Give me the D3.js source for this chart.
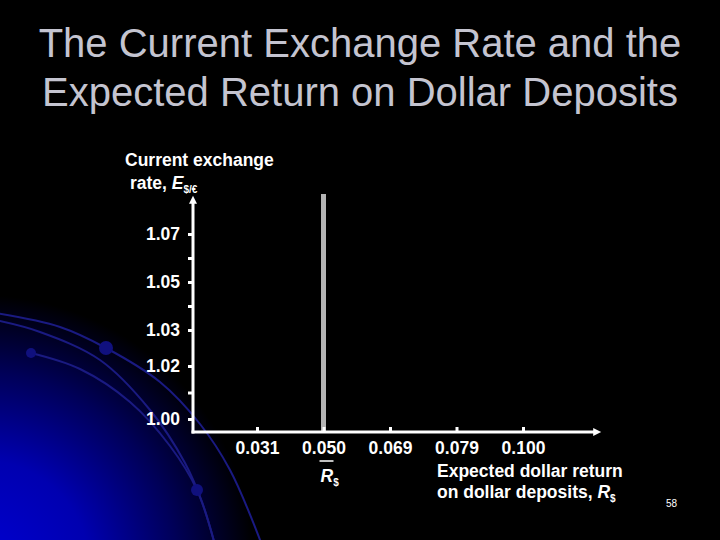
<!DOCTYPE html>
<html lang="en">

<head>
    <meta charset="utf-8">
    <title>The Current Exchange Rate and the Expected Return on Dollar Deposits</title>
    <script src="https://d3js.org/d3.v7.min.js"></script>
    <style>
        body {
            margin: 0;
            padding: 0;
            overflow: hidden;
            background: #000;
        }

        text {
            font-family: "Liberation Sans", Arial, sans-serif;
        }
    </style>
</head>

<body>

    <svg id="chart"></svg>

    <script>
        // exchange rate ticks (E$/€), only some of them carry a label
        const yTickValues = [1.00, 1.01, 1.02, 1.03, 1.04, 1.05, 1.06, 1.07];
        const yTickLabels = ["1.00", "", "1.02", "1.03", "", "1.05", "", "1.07"];
        // expected dollar return ticks
        const xTickLabels = ["0.031", "0.050", "0.069", "0.079", "0.100"];
        // the dollar interest rate R$ (vertical schedule)
        const dollarRate = "0.050";

        const titleLines = ["The Current Exchange Rate and the", "Expected Return on Dollar Deposits"];

        const width = 720;
        const height = 540;

        const svg = d3.select("#chart")
            .attr("width", width)
            .attr("height", height);

        const defs = svg.append("defs");

        // blue glow in the bottom left corner
        const glow = defs.append("radialGradient")
            .attr("id", "glow")
            .attr("gradientUnits", "userSpaceOnUse")
            .attr("cx", -20).attr("cy", 570).attr("r", 275);
        glow.append("stop").attr("offset", 0).attr("stop-color", "#0000d4");
        glow.append("stop").attr("offset", 0.4).attr("stop-color", "#0000b0");
        glow.append("stop").attr("offset", 0.72).attr("stop-color", "#000058");
        glow.append("stop").attr("offset", 1).attr("stop-color", "#000000");

        defs.append("marker")
            .attr("id", "arrow")
            .attr("markerUnits", "userSpaceOnUse")
            .attr("viewBox", "0 0 10 10")
            .attr("refX", 1).attr("refY", 5)
            .attr("markerWidth", 9).attr("markerHeight", 8)
            .attr("orient", "auto")
            .append("path")
            .attr("d", "M0,0 L10,5 L0,10 Z")
            .attr("fill", "#fff");

        svg.append("rect")
            .attr("width", width)
            .attr("height", height)
            .attr("fill", "#000");

        svg.append("rect")
            .attr("width", width)
            .attr("height", height)
            .attr("fill", "url(#glow)");

        // decorative arcs
        const swoosh = d3.line().curve(d3.curveCatmullRom);
        const arcs = [
            [[-5, 313], [60, 327], [106, 348], [160, 382], [200, 424], [230, 470], [262, 545]],
            [[-5, 320], [40, 332], [100, 360], [150, 410], [185, 463], [202, 502], [215, 545]],
            [[31, 353], [80, 369], [130, 402], [170, 446], [197, 490], [215, 545]]
        ];
        svg.append("g")
            .selectAll("path")
            .data(arcs)
            .join("path")
            .attr("d", swoosh)
            .attr("fill", "none")
            .attr("stroke", "#1a1a82")
            .attr("stroke-width", 2);

        svg.append("g")
            .selectAll("circle")
            .data([[106, 348, 7], [31, 353, 5], [197, 490, 6]])
            .join("circle")
            .attr("cx", d => d[0])
            .attr("cy", d => d[1])
            .attr("r", d => d[2])
            .attr("fill", "#10107e");

        // title
        svg.append("g")
            .selectAll("text")
            .data(titleLines)
            .join("text")
            .attr("x", width / 2)
            .attr("y", (d, i) => 57 + i * 49)
            .attr("text-anchor", "middle")
            .attr("fill", "#c4c4d0")
            .attr("font-size", 40)
            .text(d => d);

        // scales
        const originX = 193;
        const originY = 432;

        const y = d3.scaleLinear()
            .domain([1.00, 1.02, 1.03, 1.07])
            .range([419, 366, 330, 234]);

        const x = d3.scalePoint()
            .domain(xTickLabels)
            .range([257, 523]);

        // R$ schedule
        svg.append("line")
            .attr("x1", x(dollarRate))
            .attr("x2", x(dollarRate))
            .attr("y1", 194)
            .attr("y2", originY)
            .attr("stroke", "#b4b4b4")
            .attr("stroke-width", 5);

        // y axis
        const yAxis = svg.append("g")
            .attr("transform", `translate(${originX},0)`)
            .call(d3.axisLeft(y)
                .tickValues(yTickValues)
                .tickFormat((d, i) => yTickLabels[i])
                .tickSize(5)
                .tickPadding(8));
        yAxis.select(".domain").remove();
        yAxis.selectAll(".tick line")
            .attr("stroke", "#fff")
            .attr("stroke-width", 3);
        yAxis.selectAll(".tick text")
            .attr("fill", "#fff")
            .attr("font-size", 17.5)
            .attr("font-weight", "bold")
            .attr("font-family", "'Liberation Sans', Arial, sans-serif");

        // x axis, ticks pointing up
        const xAxis = svg.append("g")
            .attr("transform", `translate(0,${originY})`)
            .call(d3.axisBottom(x)
                .tickSize(-5)
                .tickPadding(10));
        xAxis.select(".domain").remove();
        xAxis.selectAll(".tick line")
            .attr("stroke", "#fff")
            .attr("stroke-width", 3);
        xAxis.selectAll(".tick text")
            .attr("fill", "#fff")
            .attr("font-size", 17.5)
            .attr("font-weight", "bold")
            .attr("font-family", "'Liberation Sans', Arial, sans-serif");

        // axis lines with arrows
        svg.append("line")
            .attr("x1", originX).attr("y1", originY + 1.5)
            .attr("x2", originX).attr("y2", 203)
            .attr("stroke", "#fff")
            .attr("stroke-width", 3)
            .attr("marker-end", "url(#arrow)");

        svg.append("line")
            .attr("x1", originX - 1.5).attr("y1", originY)
            .attr("x2", 594).attr("y2", originY)
            .attr("stroke", "#fff")
            .attr("stroke-width", 3)
            .attr("marker-end", "url(#arrow)");

        // axis titles
        const label = svg.append("g")
            .attr("fill", "#fff")
            .attr("font-size", 17.5)
            .attr("font-weight", "bold");

        label.append("text")
            .attr("x", 125).attr("y", 166)
            .text("Current exchange");

        const rate = label.append("text")
            .attr("x", 130).attr("y", 189);
        rate.append("tspan").text("rate, ");
        rate.append("tspan").attr("font-style", "italic").text("E");
        rate.append("tspan").attr("font-size", 10).attr("dy", 4).text("$/€");

        label.append("text")
            .attr("x", 437).attr("y", 477)
            .text("Expected dollar return");

        const deposits = label.append("text")
            .attr("x", 437).attr("y", 498);
        deposits.append("tspan").text("on dollar deposits, ");
        deposits.append("tspan").attr("font-style", "italic").text("R");
        deposits.append("tspan").attr("font-size", 10).attr("dy", 4).text("$");

        // R$ marker under the axis
        const rx = x(dollarRate);
        svg.append("line")
            .attr("x1", rx - 4).attr("x2", rx + 10)
            .attr("y1", 461).attr("y2", 461)
            .attr("stroke", "#fff")
            .attr("stroke-width", 1.5);

        const rLabel = label.append("text")
            .attr("x", rx - 3).attr("y", 482);
        rLabel.append("tspan").attr("font-style", "italic").text("R");
        rLabel.append("tspan").attr("font-size", 10).attr("dy", 4).text("$");

        // slide number
        svg.append("text")
            .attr("x", 666).attr("y", 507)
            .attr("fill", "#fff")
            .attr("font-size", 10)
            .text("58");
    </script>
</body>

</html>
